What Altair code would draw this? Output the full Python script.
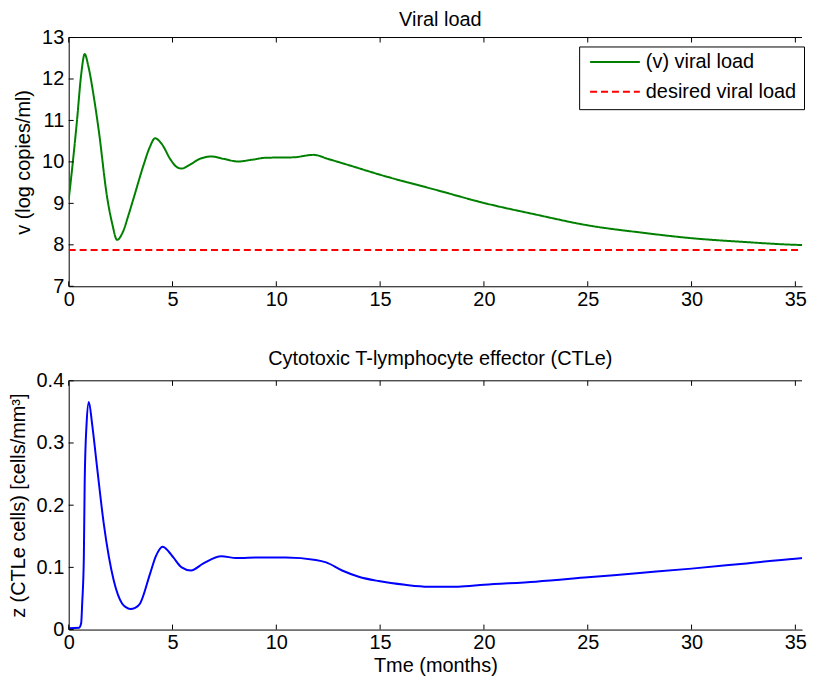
import altair as alt
import pandas as pd

# ---------------- data ----------------
t_v = [0, 0.2, 0.4, 0.6, 0.77, 0.95, 1.2, 1.45, 1.85, 2.1, 2.33, 2.6, 2.9, 3.13,
       3.61, 3.9, 4.16, 4.5, 4.9, 5.2, 5.44, 5.8, 6.3, 6.87, 7.5, 8.15, 8.8, 9.5,
       10.8, 11.8, 12.5, 13.5, 15, 17.8, 20, 22.5, 25, 27.5, 30, 32.5, 35, 35.8]
v = [9.09, 10.0, 11.0, 12.1, 12.6, 12.3, 11.6, 10.75, 9.15, 8.5, 8.12, 8.3, 8.75, 9.13,
     9.93, 10.35, 10.57, 10.42, 10.06, 9.88, 9.84, 9.92, 10.07, 10.13, 10.07, 10.01, 10.05, 10.1,
     10.11, 10.17, 10.07, 9.92, 9.69, 9.31, 9.01, 8.73, 8.47, 8.30, 8.16, 8.07, 8.00, 7.99]

t_desired = [0, 35.8]
v_desired = [7.875, 7.875]

t_z = [0, 0.5, 0.6, 0.65, 0.73, 0.77, 0.86, 0.97, 1.13, 1.37, 1.69, 2.17, 2.57, 2.75, 2.97,
       3.2, 3.44, 3.92, 4.2, 4.53, 4.8, 5.04, 5.44, 5.89, 6.47, 7.35, 8.07, 9.19, 10.46, 11.9,
       12.4, 13.17, 13.97, 14.93, 16.2, 17.32, 18.75, 20, 22.5, 25, 27.5, 30, 32.5, 35, 35.8]
z = [0.002, 0.003, 0.01, 0.042, 0.117, 0.237, 0.33, 0.366, 0.33, 0.26, 0.17, 0.079, 0.042, 0.036, 0.033,
     0.035, 0.042, 0.09, 0.118, 0.133, 0.126, 0.116, 0.10, 0.095, 0.106, 0.118, 0.115, 0.116, 0.116, 0.112,
     0.108, 0.095, 0.085, 0.078, 0.072, 0.069, 0.069, 0.072, 0.077, 0.084, 0.091, 0.098, 0.106, 0.114, 0.116]

series_names = ["(v) viral load", "desired viral load"]
series_colors = ["#008000", "#ff0000"]
x_ticks = [0, 5, 10, 15, 20, 25, 30, 35]
v_ticks = [7, 8, 9, 10, 11, 12, 13]
z_ticks = [0, 0.1, 0.2, 0.3, 0.4]
title_top = "Viral load"
title_bottom = "Cytotoxic T-lymphocyte effector (CTLe)"

# ---------------- layout / style ----------------
FONT = "Liberation Sans"
PX_PER_MONTH = 747 / 35.8
W, H = 737, 250
XMAX = W / PX_PER_MONTH
FS = 20

df_top = pd.DataFrame({
    "t": t_v + t_desired,
    "val": v + v_desired,
    "series": [series_names[0]] * len(t_v) + [series_names[1]] * len(t_desired),
})
df_bot = pd.DataFrame({"t": t_z, "val": z})
df_xt = pd.DataFrame({"t": x_ticks})
df_vt = pd.DataFrame({"val": v_ticks})
df_zt = pd.DataFrame({"val": z_ticks})
df_one = pd.DataFrame({"k": [0]})

x_scale = alt.Scale(domain=[0, XMAX], nice=False, zero=False)


def xaxis(title):
    kw = dict(values=x_ticks, ticks=False, grid=False, domainColor="black",
              labelFont=FONT, labelFontSize=FS, labelColor="black", labelPadding=3,
              labelFlush=False, labelOverlap=False)
    if title:
        kw.update(title=title, titleFont=FONT, titleFontSize=FS, titleFontWeight="normal",
                  titleColor="black", titleY=26, titleBaseline="top")
    else:
        kw.update(title=None)
    return alt.Axis(**kw)


def yaxis(title, ticks, fmt, tx):
    return alt.Axis(values=ticks, ticks=False, grid=False, domainColor="black", format=fmt,
                    labelFont=FONT, labelFontSize=FS, labelColor="black", labelPadding=5,
                    labelFlush=False, labelOverlap=False,
                    title=title, titleFont=FONT, titleFontSize=FS, titleFontWeight="normal",
                    titleColor="black", titleX=tx, titleBaseline="bottom")


def frame_layers(xax, yax, yscale, ydf, title, ty):
    xt_bottom = alt.Chart(df_xt).mark_rule(color="black", strokeWidth=1).encode(
        x=alt.X("t:Q", scale=x_scale, axis=xax), y=alt.value(H), y2=alt.value(H - 5))
    xt_top = alt.Chart(df_xt).mark_rule(color="black", strokeWidth=1).encode(
        x=alt.X("t:Q", scale=x_scale, axis=xax), y=alt.value(0), y2=alt.value(5))
    yt = alt.Chart(ydf).mark_rule(color="black", strokeWidth=1).encode(
        y=alt.Y("val:Q", scale=yscale, axis=yax), x=alt.value(0), x2=alt.value(5))
    border = alt.Chart(df_one).mark_rule(color="black", strokeWidth=1).encode(
        x=alt.value(0), x2=alt.value(W), y=alt.value(0))
    ttl = alt.Chart(df_one).mark_text(font=FONT, fontSize=FS, color="black", align="center",
                                      baseline="alphabetic").encode(
        x=alt.value(PX_PER_MONTH * 35.8 / 2), y=alt.value(ty), text=alt.value(title))
    return [xt_bottom, xt_top, yt, border, ttl]


# top panel
ys_top = alt.Scale(domain=[7, 13], nice=False, zero=False)
xa_top = xaxis(None)
ya_top = yaxis("v (log copies/ml)", v_ticks, "d", -35)
leg = alt.Legend(orient="none", legendX=513, legendY=9, title=None, symbolType="stroke",
                 symbolSize=2500, symbolStrokeWidth=2, labelFont=FONT, labelFontSize=FS,
                 labelColor="black", strokeColor="black", fillColor="white", padding=7,
                 symbolOffset=3, clipHeight=17, rowPadding=9, labelOffset=5, labelLimit=400,
                 cornerRadius=0)
lines_top = alt.Chart(df_top).mark_line(strokeWidth=2, clip=True, interpolate="monotone").encode(
    x=alt.X("t:Q", scale=x_scale, axis=xa_top),
    y=alt.Y("val:Q", scale=ys_top, axis=ya_top),
    color=alt.Color("series:N", scale=alt.Scale(domain=series_names, range=series_colors), legend=leg),
    strokeDash=alt.StrokeDash("series:N", scale=alt.Scale(domain=series_names, range=[[1, 0], [7, 4]]), legend=leg),
    order=alt.Order("t:Q"),
)
top = alt.layer(lines_top, *frame_layers(xa_top, ya_top, ys_top, df_vt, title_top, -12)).properties(
    width=W, height=H)

# bottom panel
ys_bot = alt.Scale(domain=[0, 0.4], nice=False, zero=False)
xa_bot = xaxis("Tme (months)")
ya_bot = yaxis("z (CTLe cells) [cells/mm³]", z_ticks, "~g", -40)
line_bot = alt.Chart(df_bot).mark_line(strokeWidth=2, color="#0000ff", clip=True, interpolate="monotone").encode(
    x=alt.X("t:Q", scale=x_scale, axis=xa_bot),
    y=alt.Y("val:Q", scale=ys_bot, axis=ya_bot),
    order=alt.Order("t:Q"),
)
bottom = alt.layer(line_bot, *frame_layers(xa_bot, ya_bot, ys_bot, df_zt, title_bottom, -16)).properties(
    width=W, height=H)

chart = alt.vconcat(top, bottom, spacing=95, bounds="flush").properties(
    padding={"left": 0, "top": 0, "right": 0, "bottom": 0},
    background="white",
).configure_view(stroke=None)

chart.save("out.html", embed_options={"renderer": "svg", "actions": False})
